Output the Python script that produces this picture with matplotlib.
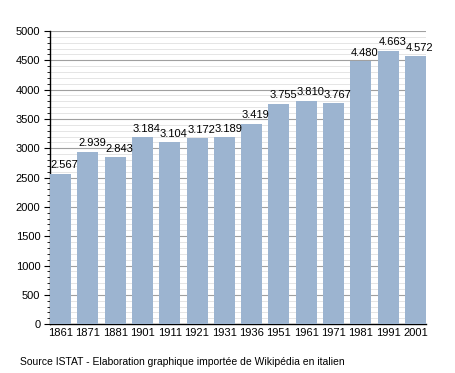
import matplotlib.pyplot as plt
from matplotlib.ticker import MultipleLocator

plt.rcParams['font.family'] = ['Liberation Sans', 'DejaVu Sans']

years = ["1861", "1871", "1881", "1901", "1911", "1921", "1931", "1936",
         "1951", "1961", "1971", "1981", "1991", "2001"]
population = [2567, 2939, 2843, 3184, 3104, 3172, 3189, 3419,
              3755, 3810, 3767, 4480, 4663, 4572]

fig = plt.figure(figsize=(4.55, 3.73), dpi=100)
ax = fig.add_axes([0.110, 0.131, 0.826, 0.786])

w = 0.77
x = range(len(years))
ax.bar(x, population, width=w, color='#9cb4d0', zorder=3)

# value labels sit left-aligned over each bar
for xi, v in zip(x, population):
    lab = "{:,}".format(v).replace(",", ".")
    ax.text(xi - w / 2 + 0.03, v + 60, lab, ha='left', va='bottom', fontsize=8, zorder=4)

ax.set_xlim(-w / 2, len(years) - 1 + w / 2)
ax.set_ylim(0, 5000)
ax.set_xticks(list(x))
ax.set_xticklabels(years, fontsize=8)
ax.tick_params(axis='x', length=0, pad=3)

ax.yaxis.set_major_locator(MultipleLocator(500))
ax.yaxis.set_minor_locator(MultipleLocator(100))
ax.tick_params(axis='y', which='major', length=4, labelsize=8, pad=3)
ax.tick_params(axis='y', which='minor', length=2)
ax.grid(axis='y', which='major', color='#a0a0a0', linewidth=0.8, zorder=0)
ax.grid(axis='y', which='minor', color='#e0e0e0', linewidth=0.6, zorder=0)

for s in ['top', 'right']:
    ax.spines[s].set_visible(False)
ax.spines['left'].set_linewidth(1)
ax.spines['bottom'].set_linewidth(1)

fig.text(20 / 455, 1 - 362 / 373, "Source ISTAT - Elaboration graphique importée de Wikipédia en italien",
         fontsize=7.5, va='center', ha='left')

fig.savefig("out.png", dpi=100)
